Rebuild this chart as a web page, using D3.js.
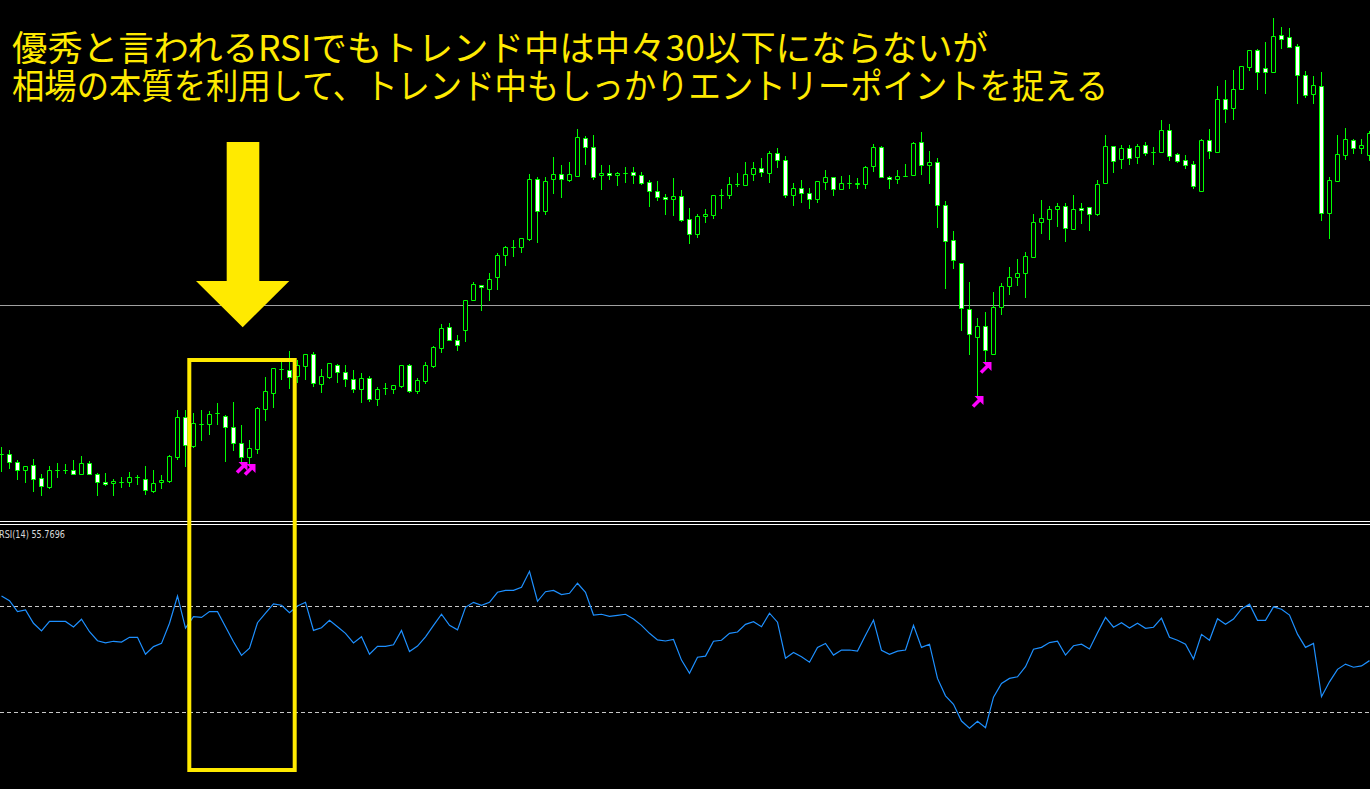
<!DOCTYPE html>
<html>
<head>
<meta charset="utf-8">
<script src="https://cdn.jsdelivr.net/npm/d3@7/dist/d3.min.js"></script>
<style>
html, body { margin: 0; padding: 0; background: #000; overflow: hidden; }
</style>
</head>
<body>
<svg width="1370" height="789"></svg>
<script>
// price bars (one per candle, oldest first)
const opens = [
  105.46,105.46,105.38,105.30,105.35,105.22,105.13,105.30,105.30,105.30,
  105.26,105.37,105.26,105.18,105.17,105.18,105.18,105.23,105.21,105.09,
  105.18,105.19,105.43,105.83,105.54,105.76,105.76,105.87,105.84,105.73,
  105.57,105.43,105.51,105.91,106.07,106.31,106.30,106.24,106.34,106.46,
  106.16,106.23,106.35,106.28,106.21,106.11,106.22,106.01,106.12,106.11,
  106.14,106.35,106.09,106.19,106.34,106.52,106.73,106.60,106.70,107.00,
  107.15,107.11,107.23,107.45,107.53,107.53,107.61,108.21,107.89,108.21,
  108.26,108.20,108.24,108.62,108.53,108.25,108.27,108.25,108.27,108.28,
  108.25,108.18,108.09,108.03,108.01,108.04,107.81,107.66,107.84,107.85,
  108.05,108.05,108.16,108.15,108.26,108.32,108.27,108.47,108.40,108.05,
  108.12,108.07,108.01,108.18,108.23,108.11,108.17,108.16,108.16,108.34,
  108.53,108.23,108.21,108.24,108.25,108.58,108.35,108.38,107.95,107.60,
  107.37,106.91,106.63,106.74,106.46,106.93,107.14,107.23,107.27,107.43,
  107.78,107.81,107.91,107.94,107.71,107.92,107.93,107.86,108.17,108.54,
  108.41,108.52,108.43,108.55,108.48,108.48,108.70,108.46,108.40,108.36,
  108.09,108.60,108.48,109.01,108.92,109.11,109.33,109.50,109.32,109.28,
  109.65,109.63,109.54,109.25,109.06,109.14,107.87,108.19,108.45,108.60,
  108.52,108.45
];
const highs = [
  105.53,105.50,105.40,105.34,105.41,105.26,105.34,105.37,105.36,105.40,
  105.44,105.39,105.27,105.27,105.21,105.23,105.28,105.25,105.34,105.30,
  105.25,105.45,105.90,105.90,105.87,105.90,105.89,105.97,105.85,105.98,
  105.75,105.60,105.93,106.23,106.32,106.40,106.49,106.40,106.46,106.48,
  106.31,106.37,106.36,106.35,106.30,106.27,106.24,106.13,106.17,106.15,
  106.35,106.36,106.22,106.38,106.54,106.76,106.77,106.65,107.00,107.18,
  107.15,107.27,107.47,107.54,107.60,107.62,108.26,108.23,108.23,108.43,
  108.35,108.38,108.71,108.64,108.65,108.35,108.35,108.28,108.33,108.33,
  108.28,108.20,108.19,108.06,108.22,108.10,107.92,107.86,107.91,108.05,
  108.11,108.23,108.27,108.38,108.38,108.42,108.49,108.52,108.44,108.17,
  108.20,108.12,108.19,108.30,108.23,108.24,108.25,108.22,108.34,108.56,
  108.54,108.24,108.30,108.36,108.58,108.68,108.49,108.42,107.99,107.69,
  107.37,107.18,106.82,106.88,107.08,107.17,107.33,107.41,107.48,107.86,
  108.00,107.94,107.97,107.97,108.05,107.97,107.93,108.20,108.65,108.54,
  108.55,108.55,108.56,108.58,108.53,108.80,108.76,108.47,108.45,108.39,
  108.61,108.71,109.14,109.20,109.30,109.34,109.50,109.51,109.58,109.82,
  109.73,109.72,109.56,109.29,109.24,109.28,108.23,108.65,108.72,108.61,
  108.61,108.69
];
const lows = [
  105.29,105.32,105.21,105.18,105.09,105.05,105.12,105.23,105.27,105.26,
  105.26,105.26,105.05,105.15,105.05,105.13,105.14,105.16,105.06,105.08,
  105.12,105.18,105.41,105.34,105.53,105.60,105.66,105.76,105.39,105.50,
  105.37,105.35,105.47,105.80,105.93,106.21,106.12,106.18,106.21,106.14,
  106.08,106.22,106.18,106.14,106.08,105.98,105.99,105.95,106.06,106.07,
  106.13,106.08,106.07,106.17,106.33,106.48,106.60,106.50,106.59,107.00,
  106.90,107.00,107.11,107.35,107.44,107.48,107.60,107.58,107.86,108.07,
  108.03,108.19,108.24,108.36,108.21,108.11,108.21,108.15,108.18,108.17,
  108.16,107.94,108.00,107.86,107.85,107.79,107.57,107.63,107.78,107.82,
  107.92,108.02,108.14,108.15,108.20,108.24,108.18,108.33,108.03,107.95,
  107.98,107.92,107.98,108.11,108.05,108.11,108.12,108.12,108.12,108.29,
  108.23,108.12,108.17,108.24,108.25,108.26,108.17,107.73,107.12,107.32,
  106.70,106.46,106.03,106.37,106.46,106.86,107.06,107.15,107.03,107.43,
  107.67,107.61,107.74,107.59,107.71,107.77,107.70,107.85,108.17,108.28,
  108.32,108.36,108.37,108.45,108.36,108.48,108.40,108.38,108.32,108.12,
  108.09,108.42,108.48,108.78,108.81,109.11,109.30,109.11,109.07,109.28,
  109.52,109.53,108.97,109.03,108.97,107.80,107.62,108.19,108.41,108.47,
  108.47,108.40
];
const closes = [
  105.46,105.38,105.30,105.34,105.21,105.14,105.30,105.30,105.30,105.26,
  105.37,105.26,105.18,105.16,105.19,105.18,105.23,105.23,105.10,105.17,
  105.20,105.44,105.83,105.55,105.77,105.76,105.86,105.87,105.73,105.57,
  105.43,105.52,105.92,106.09,106.32,106.31,106.23,106.35,106.46,106.17,
  106.24,106.37,106.28,106.21,106.11,106.22,106.01,106.11,106.12,106.15,
  106.35,106.09,106.20,106.35,106.53,106.72,106.60,106.55,107.00,107.16,
  107.13,107.21,107.45,107.53,107.53,107.62,108.21,107.89,108.19,108.26,
  108.21,108.26,108.63,108.53,108.23,108.27,108.25,108.27,108.27,108.25,
  108.17,108.09,108.03,108.01,108.04,107.80,107.66,107.84,107.86,108.05,
  108.05,108.16,108.16,108.26,108.32,108.28,108.47,108.40,108.05,108.12,
  108.07,108.01,108.19,108.23,108.11,108.17,108.17,108.17,108.33,108.53,
  108.23,108.21,108.24,108.24,108.57,108.35,108.38,107.95,107.59,107.40,
  106.92,106.66,106.74,106.50,106.93,107.14,107.23,107.27,107.44,107.78,
  107.82,107.91,107.94,107.72,107.91,107.90,107.86,108.16,108.54,108.39,
  108.52,108.42,108.54,108.47,108.48,108.70,108.44,108.39,108.35,108.14,
  108.60,108.49,109.01,108.91,109.11,109.34,109.50,109.28,109.28,109.64,
  109.61,109.53,109.25,109.05,109.15,107.87,108.20,108.46,108.61,108.52,
  108.55,108.67
];
// RSI(14) per bar
const rsiValues = [
  73.9,72.1,68.0,68.6,63.6,60.7,64.3,64.3,64.3,62.2,
  65.1,60.4,57.0,56.2,56.8,56.5,58.3,58.3,51.9,54.8,
  56.0,63.6,73.9,61.8,66.1,65.8,68.0,68.0,62.3,56.6,
  51.5,54.2,63.8,67.4,70.9,70.4,67.6,70.1,71.5,60.9,
  61.9,64.7,62.3,59.8,56.2,58.5,51.9,54.9,54.9,55.5,
  60.9,52.9,55.0,58.5,62.8,67.0,62.8,61.1,69.6,71.5,
  70.4,71.5,75.3,76.0,76.0,77.2,83.2,71.9,75.5,76.0,
  74.4,74.9,78.7,75.3,66.7,67.0,66.2,66.6,67.0,65.2,
  62.8,59.8,57.3,56.9,57.5,49.7,44.7,50.8,51.2,56.8,
  57.2,59.8,60.3,63.2,64.2,62.3,67.4,64.0,50.4,52.6,
  51.0,48.9,54.5,56.0,51.6,53.5,53.5,53.1,59.1,64.8,
  53.4,51.9,53.1,53.5,62.8,54.5,55.7,42.8,36.2,33.0,
  26.7,24.0,26.6,24.2,35.7,40.9,42.8,43.4,47.2,53.8,
  54.5,56.3,56.8,51.6,55.1,55.7,53.9,60.0,65.8,62.1,
  63.8,61.8,63.6,61.7,62.1,65.5,58.3,57.2,55.7,50.1,
  59.4,57.2,65.3,63.2,65.2,69.0,70.8,64.7,64.7,69.8,
  68.9,66.7,59.5,54.5,56.0,35.9,41.5,46.2,48.2,47.0,
  47.5,49.5
];
const signalBars = [30, 31, 122, 123];   // bars with an entry arrow
const rsiLevels = [70, 30];
const hLinePrice = 106.95;
const rsiLabel = "RSI(14) 55.7696";
const titleLines = [
  "優秀と言われるRSIでもトレンド中は中々30以下にならないが",
  "相場の本質を利用して、トレンド中もしっかりエントリーポイントを捉える"
];

var width = 1370, height = 789;
var green = "#00ff00", yellow = "#ffea00";

var svg = d3.select("svg");
svg.append("rect").attr("width", width).attr("height", height).attr("fill", "#000");

// scales
var x = d3.scaleLinear().domain([0, opens.length - 1]).range([1.5, 1.5 + 8 * (opens.length - 1)]);
var y = d3.scaleLinear().domain([104.8, 110]).range([520, 0]);
var yr = d3.scaleLinear().domain([0, 100]).range([791.8, 526.8]);
var py = v => Math.round(y(v));

// horizontal price line
svg.append("line")
    .attr("x1", 0).attr("x2", width)
    .attr("y1", py(hLinePrice) + 0.5).attr("y2", py(hLinePrice) + 0.5)
    .attr("stroke", "#a0a0a0").attr("stroke-width", 1);

// candles
var bars = d3.range(opens.length);
var g = svg.append("g");
g.selectAll("line.wick")
    .data(bars)
    .join("line")
    .attr("class", "wick")
    .attr("x1", i => x(i)).attr("x2", i => x(i))
    .attr("y1", i => py(highs[i])).attr("y2", i => py(lows[i]) + 1)
    .attr("stroke", green).attr("stroke-width", 1);

g.selectAll("path.body")
    .data(bars)
    .join("path")
    .attr("class", "body")
    .attr("d", function (i) {
        var t = py(Math.max(opens[i], closes[i]));
        var b = py(Math.min(opens[i], closes[i]));
        var h = Math.max(0, b - t);
        return "M" + (x(i) - 2) + "," + (t + 0.5) + "h4v" + h + "h-4Z";
    })
    .attr("fill", i => closes[i] < opens[i] ? "#fff" : "#000")
    .attr("stroke", green).attr("stroke-width", 1);

// yellow down arrow
var arrowPts = [[226.7,142],[259.3,142],[259.3,281],[289.3,281],[242.7,327.3],[196,281],[226.7,281]];
svg.append("polygon")
    .attr("points", arrowPts.map(p => p.join(",")).join(" "))
    .attr("fill", yellow);

// entry arrows
var sig = svg.append("g").selectAll("g")
    .data(signalBars)
    .join("g")
    .attr("transform", i => "translate(" + (x(i) - 6) + "," + (py(lows[i]) - 1) + ")");
sig.append("path").attr("d", "M3,0H12V9Z").attr("fill", "#ff00ff");
sig.append("line")
    .attr("x1", 1.5).attr("y1", 10.5).attr("x2", 9).attr("y2", 3)
    .attr("stroke", "#ff00ff").attr("stroke-width", 3.5);

// panel separator
[521.5, 524.5].forEach(function (yy) {
    svg.append("line").attr("x1", 0).attr("x2", width)
        .attr("y1", yy).attr("y2", yy)
        .attr("stroke", "#fff").attr("stroke-width", 1);
});

// RSI levels
svg.selectAll("line.level")
    .data(rsiLevels)
    .join("line")
    .attr("class", "level")
    .attr("x1", 0).attr("x2", width)
    .attr("y1", d => Math.round(yr(d)) + 0.5).attr("y2", d => Math.round(yr(d)) + 0.5)
    .attr("stroke", "#c8c8c8").attr("stroke-width", 1)
    .attr("stroke-dasharray", "4,3");

// RSI line
var rsiLine = d3.line()
    .x((d, i) => x(i))
    .y(d => yr(d));
svg.append("path")
    .datum(rsiValues)
    .attr("d", rsiLine)
    .attr("fill", "none")
    .attr("stroke", "#1e90ff")
    .attr("stroke-width", 1.2);

svg.append("text")
    .attr("x", -1).attr("y", 538)
    .attr("fill", "#d8d8d8")
    .attr("font-family", "DejaVu Sans, sans-serif")
    .attr("font-size", 10)
    .attr("textLength", 66).attr("lengthAdjust", "spacingAndGlyphs")
    .text(rsiLabel);

// highlight box
svg.append("rect")
    .attr("x", 189.3).attr("y", 360)
    .attr("width", 105.4).attr("height", 410)
    .attr("fill", "none")
    .attr("stroke", yellow).attr("stroke-width", 4);

// title
var titleLen = [976, 1096];
svg.selectAll("text.title")
    .data(titleLines)
    .join("text")
    .attr("class", "title")
    .attr("x", 12)
    .attr("y", (d, i) => 61 + i * 38)
    .attr("fill", yellow)
    .attr("font-family", "Noto Sans CJK JP, sans-serif")
    .attr("font-size", 35)
    .attr("textLength", (d, i) => titleLen[i])
    .attr("lengthAdjust", "spacingAndGlyphs")
    .text(d => d);
</script>
</body>
</html>
